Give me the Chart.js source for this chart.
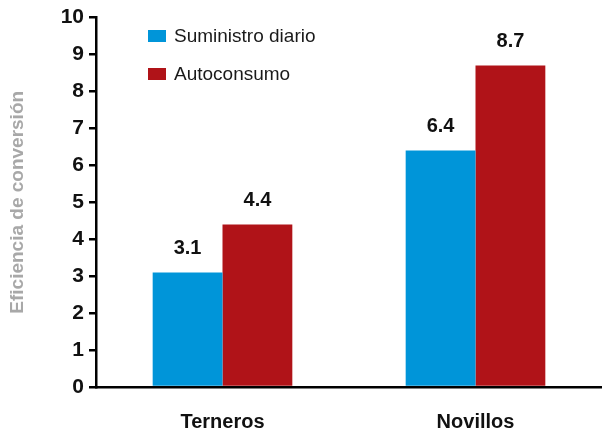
<!DOCTYPE html>
<html><head><meta charset="utf-8">
<script src="https://cdn.jsdelivr.net/npm/chart.js@4"></script>
<style>html,body{margin:0;padding:0;background:#fff}#wrap{width:602px;height:435px}</style>
</head><body><div id="wrap"><canvas id="c" width="602" height="435"></canvas></div>
<script>
const categories = ["Terneros", "Novillos"];
const seriesNames = ["Suministro diario", "Autoconsumo"];
const suministroDiario = [3.1, 6.4];
const autoconsumo = [4.4, 8.7];
const yTicks = [0,1,2,3,4,5,6,7,8,9,10];
const yTitle = "Eficiencia de conversión";
const FONT = "'Liberation Sans', Arial, sans-serif";

const legendPlugin = {
  id: 'customLegend',
  afterDraw(chart) {
    const ctx = chart.ctx;
    const ys = [36, 74];
    ctx.save();
    chart.data.datasets.forEach((ds, i) => {
      ctx.fillStyle = ds.backgroundColor;
      ctx.fillRect(148, ys[i] - 6, 18, 12);
      ctx.fillStyle = '#1a1a1a';
      ctx.font = "19px " + FONT;
      ctx.textBaseline = 'middle';
      ctx.textAlign = 'left';
      ctx.fillText(ds.label, 174, ys[i] + 1);
    });
    ctx.restore();
  }
};
const valuePlugin = {
  id: 'values',
  afterDatasetsDraw(chart) {
    const ctx = chart.ctx;
    ctx.save();
    ctx.font = "bold 20px " + FONT;
    ctx.fillStyle = '#111';
    ctx.textAlign = 'center';
    ctx.textBaseline = 'bottom';
    chart.data.datasets.forEach((ds, i) => {
      chart.getDatasetMeta(i).data.forEach((bar, j) => {
        ctx.fillText(ds.data[j].toFixed(1), bar.x, bar.y - 14);
      });
    });
    ctx.restore();
  }
};

new Chart(document.getElementById('c'), {
  type: 'bar',
  data: {
    labels: categories,
    datasets: [
      { label: seriesNames[0], data: suministroDiario, backgroundColor: '#0095d9' },
      { label: seriesNames[1], data: autoconsumo, backgroundColor: '#b01318' }
    ]
  },
  options: {
    responsive: false,
    animation: false,
    devicePixelRatio: 1,
    layout: { padding: { top: 17, right: 0, bottom: 0, left: 0 } },
    plugins: { legend: { display: false }, tooltip: { enabled: false } },
    datasets: { bar: { categoryPercentage: 0.552, barPercentage: 1 } },
    scales: {
      x: {
        grid: { display: false },
        border: { display: true, color: '#000', width: 2.5 },
        ticks: { color: '#111', font: { family: FONT, size: 20, weight: 'bold' }, padding: 15 },
        afterFit(s) { s.height = 48; }
      },
      y: {
        min: 0, max: 10,
        afterBuildTicks(s) { s.ticks = yTicks.map(v => ({ value: v })); },
        grid: { drawOnChartArea: false, tickLength: 7, color: '#000', lineWidth: 2.5 },
        border: { display: true, color: '#000', width: 2.5 },
        ticks: { color: '#111', font: { family: FONT, size: 21, weight: 'bold' }, padding: 5 },
        title: { display: true, text: yTitle, color: '#a8a8a8', font: { family: FONT, size: 19, weight: 'bold' }, padding: { top: 6, bottom: 0 } },
        afterFit(s) { s.width = 96; }
      }
    }
  },
  plugins: [legendPlugin, valuePlugin]
});
</script>
</body></html>
